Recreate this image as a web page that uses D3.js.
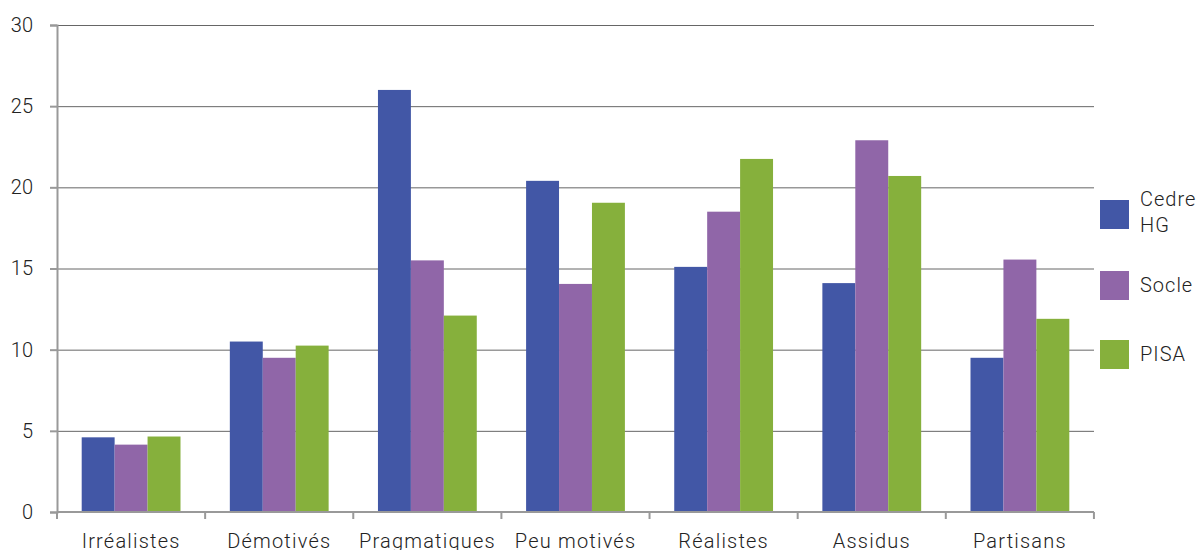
<!DOCTYPE html>
<html>
<head>
<meta charset="utf-8">
<script src="https://cdn.jsdelivr.net/npm/d3@7"></script>
<style>
  body { margin: 0; background: #fff; }
  text { font-family: Roboto, "DejaVu Sans", sans-serif; font-weight: 300; }
</style>
</head>
<body>
<svg id="chart" width="1203" height="550"></svg>
<script>
// data
var categories = ["Irréalistes", "Démotivés", "Pragmatiques", "Peu motivés", "Réalistes", "Assidus", "Partisans"];
var seriesNames = ["Cedre HG", "Socle", "PISA"];
var cedreHG = [4.6, 10.5, 26.0, 20.4, 15.1, 14.1, 9.5];
var socle   = [4.15, 9.5, 15.5, 14.05, 18.5, 22.9, 15.55];
var pisa    = [4.65, 10.25, 12.1, 19.05, 21.75, 20.7, 11.9];
var yTicks = [0, 5, 10, 15, 20, 25, 30];
var colors = ["#4257a6", "#9066a8", "#86b03c"];

var svg = d3.select("#chart");
var mLeft = 57, mRight = 1094, mTop = 25, mBottom = 512;

var x = d3.scaleBand().domain(categories).range([mLeft, mRight])
    .paddingInner(0.333).paddingOuter(0.1667);
var xs = d3.scaleBand().domain(seriesNames).range([0, x.bandwidth()]);
var y = d3.scaleLinear().domain([0, 30]).range([mBottom, mTop]);

var values = [cedreHG, socle, pisa];

// grid lines
svg.append("g").selectAll("line").data(yTicks.filter(function (d) { return d > 0; }))
  .enter().append("line")
  .attr("x1", mLeft).attr("x2", mRight)
  .attr("y1", function (d) { return y(d) + 0.5; })
  .attr("y2", function (d) { return y(d) + 0.5; })
  .style("stroke", "#666").style("stroke-width", 1);

// bars
values.forEach(function (vals, si) {
  svg.append("g").selectAll("rect").data(vals)
    .enter().append("rect")
    .attr("x", function (d, i) { return x(categories[i]) + xs(seriesNames[si]); })
    .attr("y", function (d) { return y(d); })
    .attr("width", xs.bandwidth())
    .attr("height", function (d) { return y(0) - y(d); })
    .style("fill", colors[si]);
});

// y axis
var yAxis = svg.append("g").attr("transform", "translate(" + mLeft + ",0)")
  .call(d3.axisLeft(y).tickValues(yTicks).tickSize(7).tickPadding(17));
yAxis.select(".domain").style("stroke", "#999").style("stroke-width", 2);
yAxis.selectAll(".tick line").style("stroke", "#999").style("stroke-width", 2);
yAxis.selectAll("text").style("font-size", "20px").style("fill", "#222");

// x axis
var bounds = d3.range(categories.length + 1).map(function (i) { return mLeft + i * x.step(); });
svg.append("line").attr("x1", mLeft).attr("x2", mRight).attr("y1", mBottom).attr("y2", mBottom)
  .style("stroke", "#999").style("stroke-width", 2);
svg.append("g").selectAll("line").data(bounds).enter().append("line")
  .attr("x1", function (d) { return d; }).attr("x2", function (d) { return d; })
  .attr("y1", mBottom).attr("y2", mBottom + 7)
  .style("stroke", "#999").style("stroke-width", 2);
svg.append("g").selectAll("text").data(categories).enter().append("text")
  .attr("x", function (d) { return x(d) + x.bandwidth() / 2; })
  .attr("y", 548)
  .attr("text-anchor", "middle")
  .style("font-size", "20px").style("letter-spacing", "1.2px").style("fill", "#222")
  .text(function (d) { return d; });

// legend
var legendLines = [["Cedre", "HG"], ["Socle"], ["PISA"]];
var legendY = [200, 271, 340];
legendLines.forEach(function (lines, i) {
  svg.append("rect").attr("x", 1100).attr("y", legendY[i]).attr("width", 29).attr("height", 29)
    .style("fill", colors[i]);
  var t = svg.append("text").attr("x", 1140)
    .attr("y", lines.length > 1 ? legendY[i] + 6 : legendY[i] + 21)
    .style("font-size", "20px").style("letter-spacing", "1px").style("fill", "#222");
  lines.forEach(function (l, j) {
    t.append("tspan").attr("x", 1140).attr("dy", j === 0 ? 0 : 26).text(l);
  });
});
</script>
</body>
</html>
